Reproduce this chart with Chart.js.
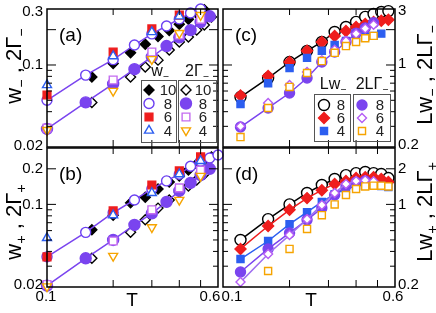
<!DOCTYPE html>
<html>
<head>
<meta charset="utf-8">
<script src="https://cdn.jsdelivr.net/npm/chart.js@4/dist/chart.umd.min.js"></script>
<style>
  html, body { margin: 0; padding: 0; background: #fff; }
  #wrap { position: relative; width: 436px; height: 313px; }
  #wrap canvas { position: absolute; left: 0; top: 0; }
</style>
</head>
<body>
<div id="wrap">
  <canvas id="pa" width="436" height="313"></canvas>
  <canvas id="pb" width="436" height="313"></canvas>
  <canvas id="pc" width="436" height="313"></canvas>
  <canvas id="pd" width="436" height="313"></canvas>
</div>
<script>
// temperatures
const T_A8 = [0.1, 0.15, 0.2, 0.25, 0.3, 0.35, 0.4, 0.45, 0.5, 0.55, 0.6];
const T_10 = [0.16, 0.2, 0.24, 0.28, 0.32, 0.36, 0.4, 0.44, 0.48, 0.52, 0.56];
const T_10G = [0.16, 0.24, 0.28, 0.32, 0.36, 0.4, 0.44, 0.48, 0.52, 0.56];
const T_SMALL = [0.1, 0.2, 0.3, 0.4, 0.5];
const T_C = [0.12, 0.16, 0.2, 0.24, 0.28, 0.32, 0.36, 0.4, 0.44, 0.48, 0.52, 0.56];
const T_C16 = [0.16, 0.2, 0.24, 0.28, 0.32, 0.36, 0.4, 0.44, 0.48, 0.52, 0.56];

// (a) w_ and 2Gamma_
const aW10 = [0.079, 0.103, 0.127, 0.150, 0.175, 0.197, 0.222, 0.245, 0.275, 0.296];
const aW8 = [0.050, 0.082, 0.111, 0.148, 0.184, 0.215, 0.247, 0.277, 0.300];
const aW6 = [0.0555, 0.129, 0.203, 0.266];
const aW4 = [0.0675, 0.119, 0.191, 0.260];
const aG10 = [0.048, 0.079, 0.096, 0.110, 0.134, 0.157, 0.173, 0.199, 0.219, 0.256];
const aG8 = [0.0285, 0.048, 0.069, 0.092, 0.117, 0.145, 0.172, 0.198, 0.232, 0.260];
const aG6 = [0.029, 0.0745, 0.129, 0.180, 0.245];
const aG4 = [0.0279, 0.060, 0.112, 0.187, 0.266];

// (b) w+ and 2Gamma+
const bW10 = [0.061, 0.081, 0.103, 0.115, 0.135, 0.155, 0.174, 0.195, 0.220, 0.238, 0.252];
const bW8 = [0.036, 0.058, 0.085, 0.109, 0.135, 0.158, 0.180, 0.210, 0.232, 0.247, 0.262];
const bW6 = [0.036, 0.088, 0.146, 0.192, 0.252];
const bW4 = [0.052, 0.081, 0.125, 0.180, 0.233];
const bG10 = [0.035, 0.058, 0.074, 0.093, 0.109, 0.127, 0.143, 0.161, 0.181];
const bG8 = [0.0205, 0.035, 0.050, 0.067, 0.084, 0.105, 0.130, 0.152, 0.177, 0.200];
const bG6 = [0.021, 0.049, 0.090, 0.138, 0.195];
const bG4 = [0.0202, 0.0366, 0.064, 0.109, 0.174];

// (c) Lw_ and 2LGamma_
const cW8 = [0.533, 0.774, 1.06, 1.32, 1.57, 1.91, 2.11, 2.33, 2.57, 2.72, 2.83, 2.88];
const cW6 = [0.55, 0.806, 1.06, 1.32, 1.57, 1.77, 1.95, 2.11, 2.24, 2.33, 2.38, 2.43];
const cW4 = [0.465, 0.70, 0.94, 1.15, 1.32, 1.48, 1.60, 1.70, 1.75, 1.77, 1.85];
const cG8 = [0.296, 0.43, 0.577, 0.775, 1.06, 1.29, 1.57, 1.87, 2.07, 2.29];
const cG6 = [0.30, 0.475, 0.675, 0.87, 1.10, 1.35, 1.60, 1.85, 2.05, 2.20];
const cG4 = [0.243, 0.43, 0.65, 0.854, 1.08, 1.27, 1.45, 1.57, 1.69, 1.77];

// (d) Lw+ and 2LGamma+
const dW8 = [0.50, 0.75, 1.00, 1.25, 1.46, 1.64, 1.77, 1.84, 1.88, 1.84, 1.81, 1.67];
const dW6 = [0.42, 0.656, 0.90, 1.13, 1.32, 1.49, 1.58, 1.67, 1.70, 1.70, 1.64, 1.55];
const dW4 = [0.345, 0.49, 0.68, 0.86, 1.05, 1.22, 1.35, 1.43, 1.46, 1.46, 1.43, 1.40];
const dG8 = [0.268, 0.42, 0.573, 0.74, 0.93, 1.20, 1.43, 1.54, 1.58];
const dG6 = [0.22, 0.38, 0.55, 0.75, 0.99, 1.25, 1.49, 1.58, 1.60, 1.57];
const dG4 = [0.273, 0.42, 0.62, 0.81, 1.00, 1.20, 1.35, 1.42, 1.44, 1.44, 1.42];

// ticks and labels
const X_TICKS = [0.2, 0.3, 0.4, 0.5];
const Y_MAJ_AB = [0.1, 0.2];
const Y_MIN_AB = [0.03, 0.04, 0.05, 0.06, 0.07, 0.08, 0.09];
const Y_MAJ_CD = [1, 2];
const Y_MIN_CD = [0.3, 0.4, 0.5, 0.6, 0.7, 0.8, 0.9];
const LAB_A = ['0.3', '0.1', '0.02'];
const LAB_B = ['0.2', '0.1', '0.02'];
const LAB_C = ['3', '1', '0.2'];
const LAB_D = ['2', '1', '0.2'];
const LAB_X = ['0.1', '0.6'];
const SIZES_AB = ['10', '8', '6', '4'];
const SIZES_CD = ['8', '6', '4'];

const W = 436, H = 313;
const FONT = '"Liberation Sans", Arial, Helvetica, sans-serif';
const BLACK = '#000000', PURPLE = '#7a44ef', VIOLET = '#6b3ff2', RED = '#ef1d1d',
  BLUE = '#2c5ef0', PINK = '#c46cf0', ORANGE = '#f6a400';

function pts(xs, ys) { return ys.map((y, i) => ({ x: xs[i], y: y })); }

function mark(style, r, stroke, fill, rot) {
  return { pointStyle: style, pointRadius: r, pointHoverRadius: r, pointBorderColor: stroke,
    pointBackgroundColor: fill, pointBorderWidth: 1.4, pointRotation: rot || 0,
    borderColor: stroke, backgroundColor: fill, showLine: false };
}

const M = {
  fDia: mark('rectRot', 5, BLACK, BLACK),
  oDia: mark('rectRot', 5, BLACK, '#fff'),
  oCirc: mark('circle', 5, VIOLET, '#fff'),
  fCirc: mark('circle', 5.5, PURPLE, PURPLE),
  fSq: mark('rect', 5.5, RED, RED),
  oSq: mark('rect', 5.5, PINK, '#fff'),
  oTri: mark('triangle', 5.2, BLUE, '#fff'),
  oTriD: mark('triangle', 5.2, ORANGE, '#fff', 180),
  bCirc: mark('circle', 5.5, BLACK, '#fff'),
  rDia: mark('rectRot', 5.5, RED, RED),
  bSq: mark('rect', 5, BLUE, BLUE),
  pCirc: mark('circle', 5, PURPLE, PURPLE),
  pDia: mark('rectRot', 4.5, '#b45cf5', '#fff'),
  yellowSq: mark('rect', 5, ORANGE, '#fff')
};

function ds(xs, ys, m, line) {
  const d = Object.assign({ data: pts(xs, ys), clip: false }, m);
  if (line) { d.showLine = true; d.borderColor = line; d.borderWidth = 1.5; }
  return d;
}

function richText(ctx, parts, x, y, size) {
  const f = s => s + 'px ' + FONT;
  let w = 0;
  parts.forEach(p => { ctx.font = f(p[1] ? size * 0.65 : size); w += ctx.measureText(p[0]).width; });
  let cx = x - w / 2;
  ctx.textAlign = 'left';
  ctx.textBaseline = 'alphabetic';
  parts.forEach(p => {
    ctx.font = f(p[1] ? size * 0.65 : size);
    ctx.fillText(p[0], cx, y + (p[1] ? size * 0.22 : 0));
    cx += ctx.measureText(p[0]).width;
  });
}

function decor(cfg) {
  return {
    id: 'decor',
    afterDatasetsDraw(chart) {
      const ctx = chart.ctx, a = chart.chartArea;
      const sx = chart.scales.x, sy = chart.scales.y;
      ctx.save();
      ctx.strokeStyle = '#000';
      ctx.lineWidth = 1;
      ctx.beginPath();
      X_TICKS.forEach(v => {
        const p = sx.getPixelForValue(v);
        ctx.moveTo(p, a.bottom); ctx.lineTo(p, a.bottom - 7);
        ctx.moveTo(p, a.top); ctx.lineTo(p, a.top + 6);
      });
      const tickY = (v, len) => {
        const p = sy.getPixelForValue(v);
        ctx.moveTo(a.left, p); ctx.lineTo(a.left + len, p);
        ctx.moveTo(a.right, p); ctx.lineTo(a.right - len, p);
      };
      cfg.yMaj.forEach(v => tickY(v, 9));
      cfg.yMin.forEach(v => tickY(v, 5));
      ctx.stroke();
      ctx.lineWidth = 1.5;
      ctx.strokeRect(a.left, a.top, a.right - a.left, a.bottom - a.top);

      ctx.fillStyle = '#000';
      // y tick labels
      ctx.font = '15px ' + FONT;
      ctx.textBaseline = 'middle';
      const left = cfg.side === 'left';
      ctx.textAlign = left ? 'right' : 'left';
      cfg.yLabels.forEach((t, i) => {
        const v = cfg.yVals[i];
        ctx.fillText(t, left ? a.left - 4 : a.right + 3, sy.getPixelForValue(v) + cfg.yDy[i]);
      });
      // x tick labels and T
      if (cfg.xLabels) {
        ctx.textAlign = 'center';
        cfg.xLabels.forEach((t, i) => {
          ctx.fillText(t, sx.getPixelForValue(cfg.xVals[i]) + cfg.xDx[i], a.bottom + 10);
        });
        ctx.font = '19px ' + FONT;
        ctx.fillText('T', cfg.tX, a.bottom + 14);
      }
      // panel label
      ctx.textAlign = 'left';
      ctx.textBaseline = 'alphabetic';
      ctx.font = '19px ' + FONT;
      ctx.fillText(cfg.label, a.left + 12, a.top + 32);
      // rotated axis title
      ctx.save();
      ctx.translate(left ? 13 : 424, cfg.titleY);
      ctx.rotate(-Math.PI / 2);
      richText(ctx, cfg.title, 0, 22 * 0.36, 22);
      ctx.restore();
      // legend
      if (cfg.legend) {
        const lg = cfg.legend;
        ctx.strokeStyle = '#555';
        ctx.lineWidth = 1;
        lg.boxes.forEach(b => ctx.strokeRect(b[0] + 0.5, b[1] + 0.5, b[2], b[3]));
        ctx.fillStyle = '#111';
        lg.heads.forEach(h => richText(ctx, h[0], h[1], h[2], 16));
        lg.cols.forEach(col => {
          col.marks.forEach((m, i) => {
            const y = lg.rows[i];
            ctx.fillStyle = m.pointBackgroundColor;
            ctx.strokeStyle = m.pointBorderColor;
            ctx.lineWidth = m.pointBorderWidth;
            Chart.helpers.drawPoint(ctx, { pointStyle: m.pointStyle, radius: m.pointRadius,
              rotation: m.pointRotation, borderWidth: m.pointBorderWidth }, col.mx, y);
            ctx.fillStyle = '#222';
            ctx.font = '15px ' + FONT;
            ctx.textAlign = 'center';
            ctx.textBaseline = 'middle';
            ctx.fillText(lg.names[i], col.tx, y + 1);
          });
        });
      }
      ctx.restore();
    }
  };
}

function panel(id, box, yMin, yMax, datasets, cfg) {
  datasets.forEach((d, i) => { d.order = datasets.length - i; });
  return new Chart(document.getElementById(id), {
    type: 'scatter',
    data: { datasets: datasets },
    options: {
      responsive: false, animation: false, devicePixelRatio: 1, events: [],
      layout: { padding: { left: box[0], top: box[2], right: W - box[1], bottom: H - box[3] } },
      plugins: { legend: { display: false }, tooltip: { enabled: false } },
      scales: {
        x: { type: 'logarithmic', min: 0.1, max: 0.6, display: false },
        y: { type: 'logarithmic', min: yMin, max: yMax, display: false }
      }
    },
    plugins: [decor(cfg)]
  });
}

panel('pa', [47, 218, 9, 147], 0.02, 0.3, [
  ds(T_10, aW10, M.fDia),
  ds(T_A8, aW8, M.oCirc, PURPLE),
  ds(T_SMALL, aW6, M.fSq),
  ds(T_SMALL, aW4, M.oTri),
  ds(T_10G, aG10, M.oDia),
  ds(T_A8, aG8, M.fCirc, PURPLE),
  ds(T_SMALL, aG6, M.oSq),
  ds(T_SMALL, aG4, M.oTriD)
], {
  label: '(a)', side: 'left', yMaj: Y_MAJ_AB, yMin: Y_MIN_AB,
  yLabels: LAB_A, yVals: [0.3, 0.1, 0.02], yDy: [3, 0, -1],
  title: [['w'], ['\u2212', 1], [' , 2\u0393'], ['\u2212', 1]], titleY: 66,
  legend: {
    boxes: [[141, 80, 35, 62], [178, 80, 38, 62]],
    heads: [[[['w'], ['\u2212', 1]], 160, 76], [[['2\u0393'], ['\u2212', 1]], 197, 76]],
    rows: [90, 103.5, 117, 130.5],
    names: SIZES_AB,
    cols: [
      { marks: [M.fDia, M.oCirc, M.fSq, M.oTri], mx: 149, tx: 168 },
      { marks: [M.oDia, M.fCirc, M.oSq, M.oTriD], mx: 186, tx: 203 }
    ]
  }
});

panel('pb', [47, 218, 148, 287], 0.02, 0.3, [
  ds(T_10, bW10, M.fDia),
  ds(T_A8, bW8, M.oCirc, PURPLE),
  ds(T_SMALL, bW6, M.fSq),
  ds(T_SMALL, bW4, M.oTri),
  ds(T_10G, bG10, M.oDia),
  ds(T_A8, bG8, M.fCirc, PURPLE),
  ds(T_SMALL, bG6, M.oSq),
  ds(T_SMALL, bG4, M.oTriD)
], {
  label: '(b)', side: 'left', yMaj: Y_MAJ_AB, yMin: Y_MIN_AB,
  yLabels: LAB_B, yVals: [0.2, 0.1, 0.02], yDy: [0, 0, -2],
  xLabels: LAB_X, xVals: [0.1, 0.6], xDx: [-1, -8], tX: 132,
  title: [['w'], ['+', 1], [' , 2\u0393'], ['+', 1]], titleY: 222
});

panel('pc', [223, 395, 9, 147], 0.2, 3, [
  ds(T_C, cW8, M.bCirc, BLACK),
  ds(T_C, cW6, M.rDia),
  ds(T_C, cW4, M.bSq),
  ds(T_C, cG8, M.pCirc, PURPLE),
  ds(T_C, cG6, M.pDia),
  ds(T_C, cG4, M.yellowSq)
], {
  label: '(c)', side: 'right', yMaj: Y_MAJ_CD, yMin: Y_MIN_CD,
  yLabels: LAB_C, yVals: [3, 1, 0.2], yDy: [2, -1, -2],
  title: [['Lw'], ['\u2212', 1], [' , 2L\u0393'], ['\u2212', 1]], titleY: 75,
  legend: {
    boxes: [[314, 94, 36, 47], [353, 94, 37, 47]],
    heads: [[[['Lw'], ['\u2212', 1]], 333, 89], [[['2L\u0393'], ['\u2212', 1]], 372, 89]],
    rows: [105, 118, 131],
    names: SIZES_CD,
    cols: [
      { marks: [M.bCirc, M.rDia, M.bSq], mx: 324, tx: 341 },
      { marks: [M.pCirc, M.pDia, M.yellowSq], mx: 362, tx: 380 }
    ]
  }
});

panel('pd', [223, 395, 148, 287], 0.2, 3, [
  ds(T_C, dW8, M.bCirc, BLACK),
  ds(T_C, dW6, M.rDia, RED),
  ds(T_C, dW4, M.bSq, BLUE),
  ds(T_C, dG8, M.pCirc, PURPLE),
  ds(T_C, dG6, M.pDia, '#a070f0'),
  ds(T_C16, dG4, M.yellowSq)
], {
  label: '(d)', side: 'right', yMaj: Y_MAJ_CD, yMin: Y_MIN_CD,
  yLabels: LAB_D, yVals: [2, 1, 0.2], yDy: [0, 0, -2],
  xLabels: LAB_X, xVals: [0.1, 0.6], xDx: [9, -2], tX: 311,
  title: [['Lw'], ['+', 1], [' , 2L\u0393'], ['+', 1]], titleY: 212
});
</script>
</body>
</html>
